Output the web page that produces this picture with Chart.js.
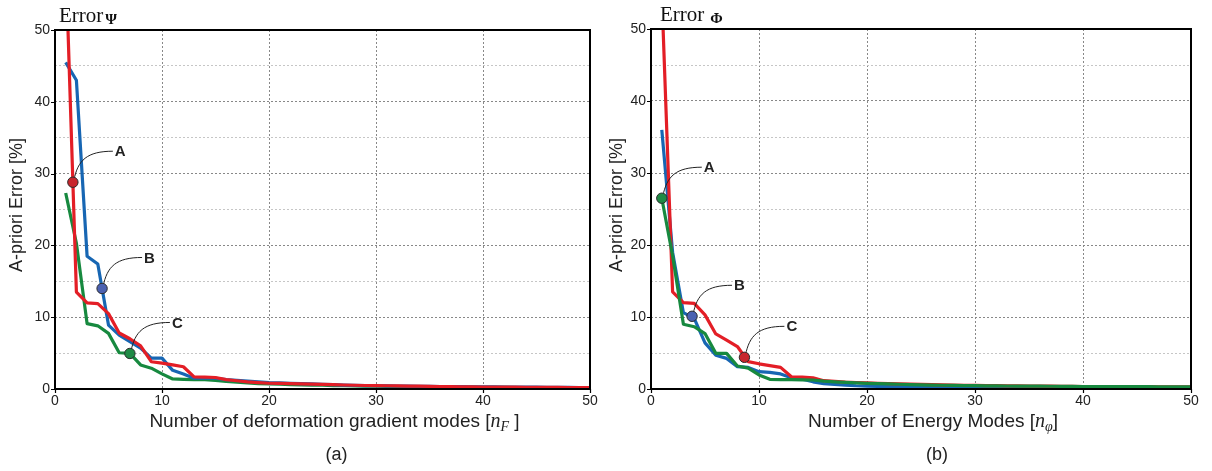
<!DOCTYPE html>
<html>
<head>
<meta charset="utf-8">
<script src="https://cdn.jsdelivr.net/npm/chart.js@4.4.1/dist/chart.umd.min.js"></script>
<style>
  html, body { margin: 0; padding: 0; background: #fff; }
  #wrap { position: relative; width: 1212px; height: 471px; overflow: hidden; }
  .pane { position: absolute; top: 0; width: 606px; height: 471px; }
  #paneA { left: 0; }
  #paneB { left: 606px; }
</style>
</head>
<body>
<div id="wrap">
  <div class="pane" id="paneA"><canvas id="chartA" width="606" height="471"></canvas></div>
  <div class="pane" id="paneB"><canvas id="chartB" width="606" height="471"></canvas></div>
</div>
<script>
// ---------------- data ----------------
const nModes = [1,2,3,4,5,6,7,8,9,10,11,12,13,14,15,16,17,18,19,20,
                21,22,23,24,25,26,27,28,29,30,31,32,33,34,35,36,37,38,39,40,
                41,42,43,44,45,46,47,48,49,50];

// (a) Error Psi vs number of deformation gradient modes
const psiBlue  = [45.5,43,18.5,17.4,8.9,7.5,6.6,5.7,4.3,4.3,2.6,2.1,1.5,1.5,1.5,1.3,1.2,1.1,1.0,0.9,
                  0.85,0.8,0.75,0.7,0.65,0.6,0.55,0.5,0.48,0.45,0.43,0.42,0.4,0.38,0.37,0.35,0.34,0.32,0.31,0.3,
                  0.29,0.28,0.27,0.26,0.25,0.24,0.23,0.22,0.21,0.2];
const psiRed   = [60,13.5,12.0,11.9,10.5,7.8,7.0,6.0,3.8,3.6,3.35,3.1,1.7,1.65,1.6,1.3,1.15,1.0,0.9,0.8,
                  0.77,0.74,0.7,0.67,0.64,0.6,0.56,0.52,0.49,0.47,0.45,0.43,0.41,0.39,0.37,0.35,0.33,0.31,0.3,0.28,
                  0.27,0.26,0.25,0.24,0.23,0.22,0.22,0.21,0.2,0.2];
const psiGreen = [27.3,20.3,9.1,8.8,7.75,5.05,4.95,3.35,2.9,2.1,1.4,1.35,1.3,1.3,1.2,1.05,0.95,0.85,0.75,0.7,
                  0.66,0.62,0.58,0.55,0.52,0.48,0.45,0.42,0.4,0.38,0.36,0.34,0.32,0.31,0.3,0.28,0.27,0.26,0.25,0.24,
                  0.23,0.22,0.21,0.2,0.2,0.19,0.18,0.18,0.17,0.17];

// (b) Error Phi vs number of energy modes
const phiBlue  = [36,19,10.6,9.8,6.4,4.7,4.25,3.1,3.0,2.4,2.3,2.1,1.55,1.35,1.0,0.75,0.65,0.55,0.45,0.4,
                  0.37,0.34,0.32,0.3,0.28,0.26,0.25,0.24,0.23,0.22,0.21,0.2,0.2,0.19,0.18,0.18,0.17,0.17,0.16,0.16,
                  0.15,0.15,0.14,0.14,0.13,0.13,0.12,0.12,0.11,0.1];
const phiRed   = [55,13.5,12.0,11.9,10.3,7.65,6.8,5.9,3.8,3.5,3.25,3.0,1.7,1.65,1.55,1.15,1.05,0.95,0.9,0.85,
                  0.8,0.76,0.72,0.68,0.65,0.62,0.58,0.55,0.52,0.5,0.48,0.46,0.44,0.43,0.41,0.4,0.39,0.37,0.36,0.35,
                  0.34,0.34,0.33,0.33,0.32,0.32,0.31,0.31,0.3,0.3];
const phiGreen = [26.5,18.5,9.0,8.65,7.7,4.95,4.95,3.2,2.9,1.95,1.35,1.3,1.3,1.28,1.25,1.1,1.0,0.92,0.85,0.78,
                  0.74,0.7,0.66,0.62,0.58,0.55,0.52,0.5,0.48,0.46,0.44,0.43,0.42,0.41,0.4,0.39,0.38,0.37,0.36,0.35,
                  0.34,0.34,0.33,0.33,0.32,0.32,0.31,0.31,0.3,0.3];

// marked points A, B, C
const markLabels = ['A','B','C'];
const psiMarkX = [1.67, 4.4, 7.0];
const psiMarkY = [28.8, 14.0, 4.95];
const phiMarkX = [1.0, 3.8, 8.65];
const phiMarkY = [26.5, 10.1, 4.4];

// axis ticks
const xTickStep = 10, yTickStep = 5, yLabelStep = 10;
const xMin = 0, xMax = 50, yMin = 0, yMax = 50;

// ---------------- styles ----------------
const RED = '#e31e26', BLUE = '#1766b3', GREEN = '#17893f';
const MARK_RED = '#c8262d', MARK_BLUE = '#4b61b1', MARK_GREEN = '#1f8a45';
const SANS = '"Liberation Sans", Arial, sans-serif';
const SERIF = '"Liberation Serif", "Times New Roman", serif';

function pts(xs, ys) { return xs.map((x, i) => ({ x: x, y: ys[i] })); }

function lineDs(label, ys, color) {
  return {
    type: 'line', label: label, data: pts(nModes, ys),
    borderColor: color, backgroundColor: color, borderWidth: 3.2,
    pointRadius: 0, tension: 0, borderJoinStyle: 'round', borderCapStyle: 'butt', fill: false
  };
}

function markDs(xs, ys, colors) {
  return {
    type: 'scatter', label: 'marks', data: pts(xs, ys),
    backgroundColor: colors, borderColor: '#2b2b2b', borderWidth: 1, pointRadius: 5.2, pointHoverRadius: 5.2
  };
}

const decor = {
  id: 'decor',
  afterDatasetDraw(chart, args, o) {
    if (args.index !== 1) return;   // after the last line dataset, before markers
    const ctx = chart.ctx, xs = chart.scales.x, ys = chart.scales.y;
    ctx.save();
    ctx.strokeStyle = '#222'; ctx.lineWidth = 1;
    o.markX.forEach((mx, i) => {
      const px = xs.getPixelForValue(mx), py = ys.getPixelForValue(o.markY[i]);
      ctx.beginPath();
      ctx.moveTo(px + 1, py - 2);
      ctx.bezierCurveTo(px + 5, py - 22, px + 14, py - 31, px + 40, py - 31);
      ctx.stroke();
    });
    ctx.restore();
  },
  afterDraw(chart, args, o) {
    const ctx = chart.ctx, a = chart.chartArea, xs = chart.scales.x, ys = chart.scales.y;
    ctx.save();
    // frame
    ctx.strokeStyle = '#000'; ctx.lineWidth = 2;
    ctx.strokeRect(a.left, a.top, a.right - a.left, a.bottom - a.top);
    // tick marks
    ctx.lineWidth = 1.2;
    ctx.beginPath();
    ys.ticks.forEach(t => {
      if (t.value % yLabelStep !== 0) return;
      const y = Math.round(ys.getPixelForValue(t.value)) + 0.5;
      ctx.moveTo(a.left - 4, y); ctx.lineTo(a.left, y);
    });
    xs.ticks.forEach(t => {
      const x = Math.round(xs.getPixelForValue(t.value)) + 0.5;
      ctx.moveTo(x, a.bottom); ctx.lineTo(x, a.bottom + 4);
    });
    ctx.stroke();

    // point labels A B C
    ctx.fillStyle = '#222';
    ctx.font = 'bold 15px ' + SANS;
    ctx.textBaseline = 'middle'; ctx.textAlign = 'left';
    o.markX.forEach((mx, i) => {
      const px = xs.getPixelForValue(mx), py = ys.getPixelForValue(o.markY[i]);
      ctx.fillText(markLabels[i], px + 42, py - 30);
    });

    // top title: Error + bold greek subscript
    ctx.textBaseline = 'alphabetic';
    ctx.font = '21px ' + SERIF;
    ctx.fillStyle = '#111';
    const tx = a.left + o.titleDx, tyb = a.top - 8;
    ctx.fillText('Error', tx, tyb);
    const w = ctx.measureText('Error').width;
    ctx.font = 'bold 15px ' + SERIF;
    ctx.fillText(o.titleSub, tx + w + o.subGap, tyb + 2);

    // y-axis title
    ctx.save();
    ctx.font = '18px ' + SANS;
    ctx.fillStyle = '#222';
    ctx.translate(a.left + o.yTitleDx, o.yTitleY);
    ctx.rotate(-Math.PI / 2);
    ctx.textAlign = 'center'; ctx.textBaseline = 'middle';
    ctx.fillText('A-priori Error [%]', 0, 0);
    ctx.restore();

    // x-axis title with math part
    const fN = '19px ' + SANS, fI = 'italic 20px ' + SERIF, fS = 'italic 14px ' + SERIF;
    const parts = [
      { t: o.xPre, f: fN, dy: 0 },
      { t: 'n', f: fI, dy: 0 },
      { t: o.xSub, f: fS, dy: 4 },
      { t: o.xPost, f: fN, dy: 0 }
    ];
    let tot = 0;
    parts.forEach(p => { ctx.font = p.f; p.w = ctx.measureText(p.t).width; tot += p.w; });
    const cx = (a.left + a.right) / 2 + o.xTitleDx;
    let x = cx - tot / 2;
    const by = a.bottom + 38;
    ctx.fillStyle = '#222'; ctx.textAlign = 'left'; ctx.textBaseline = 'alphabetic';
    parts.forEach(p => { ctx.font = p.f; ctx.fillText(p.t, x, by + p.dy); x += p.w; });

    // caption
    ctx.font = '18px ' + SANS; ctx.textAlign = 'center';
    ctx.fillText(o.caption, (a.left + a.right) / 2 + o.capDx, a.bottom + 71);
    ctx.restore();
  }
};

function makeOptions(yWidth, pad, decorOpts) {
  return {
    responsive: false, animation: false, devicePixelRatio: 1,
    layout: { padding: pad },
    plugins: { legend: { display: false }, tooltip: { enabled: false }, title: { display: false }, decor: decorOpts },
    scales: {
      x: {
        type: 'linear', min: xMin, max: xMax,
        ticks: { stepSize: xTickStep, padding: 4, color: '#222', font: { family: SANS, size: 14 } },
        grid: { drawTicks: false, color: '#888888', lineWidth: 1 },
        border: { display: false, dash: [2, 2] },
        afterFit: s => { s.height = 30; }
      },
      y: {
        type: 'linear', min: yMin, max: yMax,
        ticks: {
          stepSize: yTickStep, padding: 5, color: '#222', font: { family: SANS, size: 14 },
          callback: v => (v % yLabelStep === 0 ? String(v) : '')
        },
        grid: {
          drawTicks: false, lineWidth: 1,
          color: c => (c.tick && c.tick.value % yLabelStep === 0 ? '#888888' : '#c6c6c6')
        },
        border: { display: false, dash: [2, 2] },
        afterFit: s => { s.width = yWidth; }
      }
    }
  };
}

new Chart(document.getElementById('chartA'), {
  data: {
    datasets: [
      markDs(psiMarkX, psiMarkY, [MARK_RED, MARK_BLUE, MARK_GREEN]),
      lineDs('red', psiRed, RED),
      lineDs('blue', psiBlue, BLUE),
      lineDs('green', psiGreen, GREEN)
    ]
  },
  options: makeOptions(45, { left: 10, right: 16, top: 30, bottom: 52 }, {
    markX: psiMarkX, markY: psiMarkY, titleDx: 4, subGap: 2, titleSub: 'Ψ',
    yTitleDx: -38, yTitleY: 205,
    xPre: 'Number of deformation gradient modes [', xSub: 'F', xPost: ' ]', xTitleDx: 12,
    caption: '(a)', capDx: 14
  }),
  plugins: [decor]
});

new Chart(document.getElementById('chartB'), {
  data: {
    datasets: [
      markDs(phiMarkX, phiMarkY, [MARK_GREEN, MARK_BLUE, MARK_RED]),
      lineDs('green', phiGreen, GREEN),
      lineDs('red', phiRed, RED),
      lineDs('blue', phiBlue, BLUE)
    ]
  },
  options: makeOptions(38, { left: 7, right: 21, top: 29, bottom: 52 }, {
    markX: phiMarkX, markY: phiMarkY, titleDx: 9, subGap: 6, titleSub: 'Φ',
    yTitleDx: -34, yTitleY: 205,
    xPre: 'Number of Energy Modes [', xSub: 'φ', xPost: ']', xTitleDx: 12,
    caption: '(b)', capDx: 16
  }),
  plugins: [decor]
});
</script>
</body>
</html>
